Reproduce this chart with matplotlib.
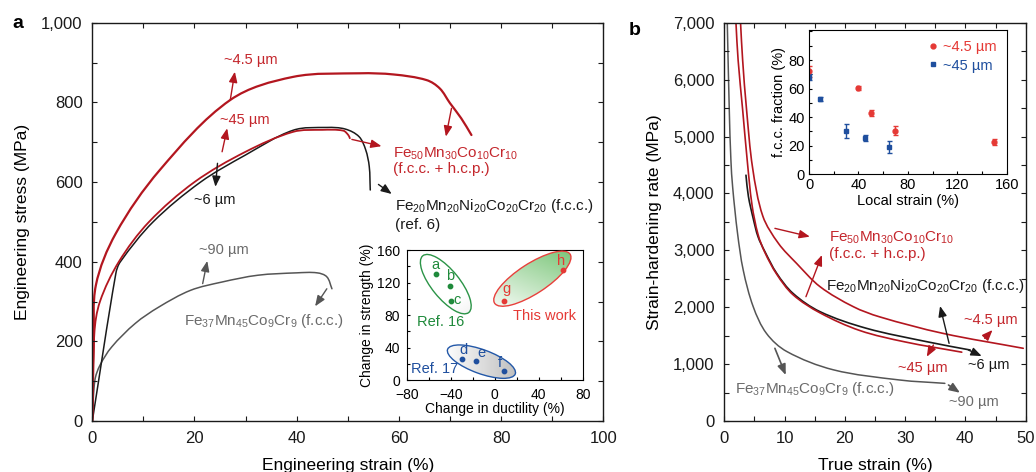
import matplotlib
matplotlib.use("Agg")
import matplotlib.pyplot as plt
import numpy as np
from matplotlib.patches import Ellipse, PathPatch
from matplotlib.path import Path
from matplotlib.lines import Line2D
from matplotlib.transforms import ScaledTranslation
from matplotlib.ticker import MultipleLocator, FuncFormatter

plt.rcParams["font.family"] = ["Liberation Sans", "DejaVu Sans"]
plt.rcParams["mathtext.default"] = "regular"

RED = "#b3161f"
RED_TXT = "#c4262c"
BLACK = "#1a1a1a"
GRAY = "#555555"
GRAY_TXT = "#6b6b6b"

# ---- panel a: engineering stress-strain curves ----
eng_x_4p5 = [0, 0.3, 0.7, 4.6, 13.2, 27, 39.3, 52.4, 59, 65.4, 68, 70, 72.2, 74.2]
eng_y_4p5 = [0, 200, 341, 471, 630, 806, 864, 873, 870, 856, 835, 798, 760, 718]
eng_x_45 = [0, 0.4, 1.5, 5.2, 11.1, 20, 30, 39.3, 45, 49.1, 50.1, 50.4]
eng_y_45 = [0, 220, 300, 400, 500, 600, 676, 726, 731, 729, 718, 710]
eng_x_6 = [0, 4.6, 5.5, 11.9, 21.2, 30, 39.3, 45.9, 49.5, 52.2, 53.5, 54.2, 54.4]
eng_y_6 = [0, 370, 400, 500, 600, 668, 730, 737, 733, 714, 681, 639, 580]
eng_x_90 = [0, 0.5, 1.5, 3.8, 8.4, 13, 19.2, 25.4, 32.4, 40, 44, 45.9, 46.9]
eng_y_90 = [0, 102, 140, 186, 245, 286, 328, 349, 366, 372, 372, 362, 332]

# inset a: change in strength vs change in ductility
ref16_duct = [-53, -41, -40]
ref16_str = [130, 116, 97]
ref16_tags = ["a", "b", "c"]
ref17_duct = [-30, -17, 8]
ref17_str = [26, 23, 11]
ref17_tags = ["d", "e", "f"]
work_duct = [8, 62]
work_str = [97, 136]
work_tags = ["g", "h"]

# ---- panel b: strain-hardening rate ----
shr_x_4p5 = [2.7, 3.05, 3.7, 4.7, 6.4, 9.0, 12.0, 15.9, 21.4, 25.8, 36.3, 49.6]
shr_y_4p5 = [7000, 6340, 5470, 4450, 3600, 3120, 2770, 2360, 2010, 1830, 1540, 1278]
shr_x_45 = [1.94, 2.3, 3.05, 3.8, 4.6, 5.6, 6.75, 8.7, 11.4, 15.9, 22.5, 30, 39.4]
shr_y_45 = [7000, 6340, 5470, 4590, 3800, 3280, 2960, 2580, 2220, 1900, 1590, 1390, 1210]
shr_x_6 = [3.6, 4.0, 4.8, 5.6, 6.75, 8.7, 11.4, 15.9, 23.6, 33.6, 40.8]
shr_y_6 = [4320, 3950, 3560, 3239, 2975, 2596, 2244, 1921, 1629, 1394, 1248]
shr_x_90 = [0.5, 0.83, 1.1, 1.4, 2.2, 3.15, 4.8, 7.0, 10.4, 18.1, 29.1, 36.6]
shr_y_90 = [7000, 5470, 4590, 4100, 3300, 2650, 2010, 1540, 1220, 900, 721, 662]

# inset b: f.c.c. fraction vs local strain
fcc_strain_4p5 = [0, 40, 50, 70, 150]
fcc_frac_4p5 = [72, 60.5, 43, 30.5, 22.5]
fcc_err_4p5 = [4, 1.5, 2, 3, 2]
fcc_strain_45 = [0, 9, 30, 45, 65]
fcc_frac_45 = [68, 52.5, 30.5, 25.5, 19]
fcc_err_45 = [2, 1.5, 5, 2, 4]

comma = FuncFormatter(lambda v, p: f"{v:,.0f}")


def style_axes(ax, size, pad=7):
    ax.tick_params(which="both", direction="in", top=True, right=True,
                   length=3.5, width=0.8, labelsize=size, pad=pad, colors=BLACK)
    for sp in ax.spines.values():
        sp.set_linewidth(1.0)
        sp.set_color(BLACK)


def smooth_curve(ax, xs, ys, color, lw):
    """Draw a curve through the points as cubic Bezier segments (rendering only)."""
    x0, x1 = ax.get_xlim()
    y0, y1 = ax.get_ylim()
    bb = ax.get_position()
    fw, fh = ax.figure.get_size_inches()
    sx = bb.width * fw / (x1 - x0)
    sy = bb.height * fh / (y1 - y0)
    p = np.column_stack([np.asarray(xs, float) * sx, np.asarray(ys, float) * sy])
    n = len(p)
    tang = np.zeros_like(p)
    for i in range(n):
        a = p[max(i - 1, 0)]
        b = p[min(i + 1, n - 1)]
        d = b - a
        tang[i] = d / (np.hypot(*d) or 1)
    verts = [p[0]]
    codes = [Path.MOVETO]
    for i in range(n - 1):
        L = np.hypot(*(p[i + 1] - p[i])) / 3
        verts += [p[i] + tang[i] * L, p[i + 1] - tang[i + 1] * L, p[i + 1]]
        codes += [Path.CURVE4] * 3
    verts = np.array(verts) / [sx, sy]
    ax.add_patch(PathPatch(Path(verts, codes), facecolor="none", edgecolor=color,
                           lw=lw, capstyle="round", joinstyle="round"))


def arrow(ax, start, end, color, lw=1.0):
    ax.annotate("", xy=end, xytext=start,
                arrowprops=dict(arrowstyle="-|>,head_length=0.45,head_width=0.18",
                                mutation_scale=14, color=color, lw=lw,
                                shrinkA=0, shrinkB=0))


def gradient_ellipse(ax, center, w, h, angle, edge, c0, c1, direction):
    trans = ax.figure.dpi_scale_trans + ScaledTranslation(center[0], center[1], ax.transData)
    ell = Ellipse((0, 0), w, h, angle=angle, transform=trans,
                  facecolor="none", edgecolor=edge, lw=1.0, zorder=3)
    ax.add_patch(ell)
    yy, xx = np.mgrid[0:1:200j, 0:1:200j]
    t = np.clip(direction[0] * xx + direction[1] * yy + direction[2], 0, 1)
    c0 = np.array(matplotlib.colors.to_rgb(c0))
    c1 = np.array(matplotlib.colors.to_rgb(c1))
    img = c0[None, None, :] * (1 - t[..., None]) + c1[None, None, :] * t[..., None]
    im = ax.imshow(img, extent=(0, 1, 0, 1), transform=ax.transAxes, origin="lower",
                   aspect="auto", zorder=2, interpolation="bilinear")
    im.set_clip_path(ell)


fig = plt.figure(figsize=(10.36, 4.72), dpi=100)

# ================= panel a =================
ax = fig.add_axes([0.0891, 0.108, 0.4932, 0.8439])
ax.set_xlim(0, 100)
ax.set_ylim(0, 1000)
smooth_curve(ax, eng_x_90, eng_y_90, GRAY, 1.1)
smooth_curve(ax, eng_x_6, eng_y_6, BLACK, 1.1)
smooth_curve(ax, eng_x_45, eng_y_45, RED, 1.3)
smooth_curve(ax, eng_x_4p5, eng_y_4p5, RED, 1.6)
ax.xaxis.set_major_locator(MultipleLocator(20))
ax.xaxis.set_minor_locator(MultipleLocator(10))
ax.yaxis.set_major_locator(MultipleLocator(200))
ax.yaxis.set_minor_locator(MultipleLocator(100))
ax.yaxis.set_major_formatter(comma)
style_axes(ax, 12)
ax.set_xlabel("Engineering strain (%)", fontsize=12.5, labelpad=9)
ax.set_ylabel("Engineering stress (MPa)", fontsize=12.5, labelpad=8)

ax.text(25.8, 906, "~4.5 µm", color=RED_TXT, fontsize=10.5, va="center")
arrow(ax, (27, 806), (27.9, 877), RED)
ax.text(25, 755, "~45 µm", color=RED_TXT, fontsize=10.5, va="center")
arrow(ax, (25.4, 676), (26.4, 735), RED)
ax.text(19.9, 556, "~6 µm", color=BLACK, fontsize=10.5, va="center")
arrow(ax, (24.5, 647), (24.1, 588), BLACK)
ax.text(20.8, 429, "~90 µm", color=GRAY_TXT, fontsize=10.5, va="center")
arrow(ax, (21.6, 345), (22.5, 402), GRAY)
arrow(ax, (70.3, 785), (69.2, 714), RED)
arrow(ax, (50.8, 707), (56.6, 690), RED)
arrow(ax, (56, 594), (58.6, 570), BLACK)
arrow(ax, (45.9, 332), (43.6, 288), GRAY)
ax.text(58.9, 662, "Fe$_{50}$Mn$_{30}$Co$_{10}$Cr$_{10}$", color=RED_TXT, fontsize=11, va="baseline")
ax.text(58.9, 622, "(f.c.c. + h.c.p.)", color=RED_TXT, fontsize=11, va="baseline")
ax.text(59.2, 530, "Fe$_{20}$Mn$_{20}$Ni$_{20}$Co$_{20}$Cr$_{20}$ (f.c.c.)", color=BLACK,
        fontsize=11, va="baseline")
ax.text(59.2, 481, "(ref. 6)", color=BLACK, fontsize=11, va="baseline")
ax.text(17.9, 240, "Fe$_{37}$Mn$_{45}$Co$_{9}$Cr$_{9}$ (f.c.c.)", color=GRAY_TXT,
        fontsize=11, va="baseline")

# inset a
axi = fig.add_axes([0.3926, 0.1949, 0.1699, 0.2754])
axi.set_xlim(-80, 80)
axi.set_ylim(0, 160)
gradient_ellipse(axi, (-44.5, 118), 0.73, 0.28, -51, "#2b9447", "#ffffff", "#b5b5b5",
                 (0.9, -0.9, 0.3))
gradient_ellipse(axi, (34.2, 124.7), 0.90, 0.30, 33, "#e8403c", "#ffffff", "#6cbf6a",
                 (0.7, 1.2, -0.95))
gradient_ellipse(axi, (-12.1, 22.6), 0.72, 0.24, -20, "#2358a8", "#ffffff", "#b9b9b9",
                 (2.2, 0.0, -0.45))
axi.scatter(ref16_duct, ref16_str, s=10, color="#1f8a3b", zorder=4)
axi.scatter(ref17_duct, ref17_str, s=10, color="#1f4f9e", zorder=4)
axi.scatter(work_duct, work_str, s=10, color="#e53935", zorder=4)
for x, y, t, dx, dy in zip(ref16_duct, ref16_str, ref16_tags, [-1, 0, 6], [11, 12, 1]):
    axi.text(x + dx, y + dy, t, color="#1f8a3b", fontsize=10.5, ha="center", va="center", zorder=5)
for x, y, t, dx, dy in zip(ref17_duct, ref17_str, ref17_tags, [1.5, 5, -3], [11, 10, 10]):
    axi.text(x + dx, y + dy, t, color="#1f4f9e", fontsize=10.5, ha="center", va="center", zorder=5)
for x, y, t, dx, dy in zip(work_duct, work_str, work_tags, [3, -2], [15, 11]):
    axi.text(x + dx, y + dy, t, color="#e53935", fontsize=10.5, ha="center", va="center", zorder=5)
axi.text(-49, 72, "Ref. 16", color="#1f8a3b", fontsize=10.5, ha="center", va="center", zorder=5)
axi.text(-55, 13, "Ref. 17", color="#1f4f9e", fontsize=10.5, ha="center", va="center", zorder=5)
axi.text(45, 79, "This work", color="#e53935", fontsize=10.5, ha="center", va="center", zorder=5)
axi.xaxis.set_minor_locator(MultipleLocator(20))
axi.yaxis.set_major_locator(MultipleLocator(40))
axi.yaxis.set_minor_locator(MultipleLocator(20))
axi.tick_params(which="both", direction="in", length=2.5, width=0.8, labelsize=10, pad=5)
axi.tick_params(axis="x", pad=5.5)
axi.set_xticks([-80, -40, 0, 40, 80], ["\u221280", "\u221240", "0", "40", "80"])
axi.set_xlabel("Change in ductility (%)", fontsize=10, labelpad=0)
axi.set_ylabel("Change in strength (%)", fontsize=10, labelpad=2)

# ================= panel b =================
bx = fig.add_axes([0.6991, 0.108, 0.2909, 0.8439])
bx.set_xlim(0, 50)
bx.set_ylim(0, 7000)
smooth_curve(bx, shr_x_90, shr_y_90, GRAY, 1.1)
smooth_curve(bx, shr_x_6, shr_y_6, BLACK, 1.2)
smooth_curve(bx, shr_x_45, shr_y_45, RED, 1.2)
smooth_curve(bx, shr_x_4p5, shr_y_4p5, RED, 1.2)
bx.xaxis.set_major_locator(MultipleLocator(10))
bx.xaxis.set_minor_locator(MultipleLocator(5))
bx.yaxis.set_major_locator(MultipleLocator(1000))
bx.yaxis.set_minor_locator(MultipleLocator(500))
bx.yaxis.set_major_formatter(comma)
style_axes(bx, 12)
bx.set_xlabel("True strain (%)", fontsize=12.5, labelpad=9)
bx.set_ylabel("Strain-hardening rate (MPa)", fontsize=12.5, labelpad=8)

arrow(bx, (8.4, 3386), (14.2, 3240), RED)
arrow(bx, (13.55, 2185), (16.2, 2917), RED)
bx.text(17.4, 3151, "Fe$_{50}$Mn$_{30}$Co$_{10}$Cr$_{10}$", color=RED_TXT, fontsize=11, va="baseline")
bx.text(17.4, 2859, "(f.c.c. + h.c.p.)", color=RED_TXT, fontsize=11, va="baseline")
bx.text(16.9, 2302, "Fe$_{20}$Mn$_{20}$Ni$_{20}$Co$_{20}$Cr$_{20}$ (f.c.c.)", color=BLACK,
        fontsize=11, va="baseline")
arrow(bx, (37.3, 1365), (35.8, 2021), BLACK)
arrow(bx, (40.5, 1248), (42.7, 1142), BLACK)
bx.text(40.5, 984, "~6 µm", color=BLACK, fontsize=10.5, va="center")
arrow(bx, (34.7, 1336), (33.6, 1130), RED)
bx.text(28.9, 926, "~45 µm", color=RED_TXT, fontsize=10.5, va="center")
arrow(bx, (43.2, 1453), (44.5, 1599), RED)
bx.text(39.7, 1775, "~4.5 µm", color=RED_TXT, fontsize=10.5, va="center")
arrow(bx, (8.4, 1278), (10.2, 808), GRAY, lw=1.2)
arrow(bx, (37.2, 633), (39.1, 497), GRAY, lw=1.2)
bx.text(1.8, 557, "Fe$_{37}$Mn$_{45}$Co$_{9}$Cr$_{9}$ (f.c.c.)", color=GRAY_TXT,
        fontsize=11, va="center")
bx.text(37.3, 340, "~90 µm", color=GRAY_TXT, fontsize=10.5, va="center")

# inset b
bxi = fig.add_axes([0.7809, 0.6307, 0.1908, 0.3057])
bxi.errorbar(fcc_strain_4p5, fcc_frac_4p5, yerr=fcc_err_4p5, fmt="o", ms=3.5,
             color="#e53935", elinewidth=1, capsize=1.8)
bxi.errorbar(fcc_strain_45, fcc_frac_45, yerr=fcc_err_45, fmt="s", ms=3.5,
             color="#1f4f9e", elinewidth=1, capsize=1.8)
bxi.set_xlim(0, 160)
bxi.set_ylim(0, 101)
bxi.set_xticks([0, 40, 80, 120, 160])
bxi.set_yticks([0, 20, 40, 60, 80])
bxi.xaxis.set_minor_locator(MultipleLocator(20))
bxi.yaxis.set_minor_locator(MultipleLocator(10))
bxi.tick_params(which="both", direction="in", length=2.5, width=0.8, labelsize=10.5, pad=3)
bxi.set_xlabel("Local strain (%)", fontsize=10.5, labelpad=1)
bxi.set_ylabel("f.c.c. fraction (%)", fontsize=10.5, labelpad=2)
handles = [Line2D([], [], ls="none", marker="o", ms=3.5, color="#e53935"),
           Line2D([], [], ls="none", marker="s", ms=3.5, color="#1f4f9e")]
leg = bxi.legend(handles, ["~4.5 µm", "~45 µm"], loc="upper right", frameon=False,
                 fontsize=10.5, handlelength=0.6, handletextpad=0.4,
                 borderaxespad=0.3, labelspacing=0.3)
for txt, col in zip(leg.get_texts(), ["#e53935", "#1f4f9e"]):
    txt.set_color(col)

fig.text(0.012, 0.95, "a", fontsize=14, fontweight="bold", va="center")
fig.text(0.607, 0.936, "b", fontsize=14, fontweight="bold", va="center")

fig.savefig("out.png", dpi=100)
